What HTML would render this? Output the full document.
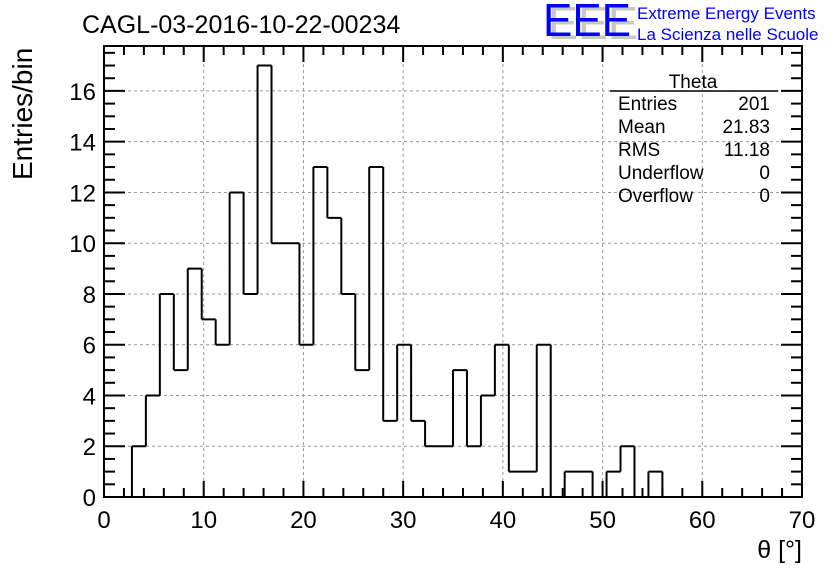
<!DOCTYPE html>
<html><head><meta charset="utf-8"><style>
body{margin:0;background:#fff;}
svg{display:block;font-family:"Liberation Sans",Arial,sans-serif;}
</style></head><body>
<svg id="chart" width="836" height="572" viewBox="0 0 836 572">
<rect width="836" height="572" fill="#fff"/>
<g id="grid"></g>
<g id="ticks"></g>
<path id="hist" fill="none" stroke="#000" stroke-width="2"/>
<rect x="104" y="46" width="698" height="451" fill="none" stroke="#000" stroke-width="2"/>
<g id="labels" font-size="24"></g>
<text x="82" y="33" font-size="25">CAGL-03-2016-10-22-00234</text>
<text x="802" y="558" font-size="25" text-anchor="end">θ [°]</text>
<text transform="translate(32,180) rotate(-90)" font-size="28">Entries/bin</text>
<g>
<text x="548" y="39" font-size="46" fill="#c8c8c8" textLength="90" lengthAdjust="spacingAndGlyphs">EEE</text>
<text x="543" y="36" font-size="46" fill="#0000ff" textLength="88" lengthAdjust="spacingAndGlyphs">EEE</text>
<text x="637" y="19" font-size="17" fill="#0000ff">Extreme Energy Events</text>
<text x="637" y="40" font-size="17" fill="#0000ff">La Scienza nelle Scuole</text>
</g>
<g font-size="19">
<text x="693" y="88" text-anchor="middle">Theta</text>
<line x1="610" y1="91" x2="778" y2="91" stroke="#000" stroke-width="1.5"/>
<text x="618" y="110">Entries</text><text x="770" y="110" text-anchor="end">201</text>
<text x="618" y="133">Mean</text><text x="770" y="133" text-anchor="end">21.83</text>
<text x="618" y="156">RMS</text><text x="770" y="156" text-anchor="end">11.18</text>
<text x="618" y="179">Underflow</text><text x="770" y="179" text-anchor="end">0</text>
<text x="618" y="202">Overflow</text><text x="770" y="202" text-anchor="end">0</text>
</g>
</svg>
<script>
const binCounts = [0,0,2,4,8,5,9,7,6,12,8,17,10,10,6,13,11,8,5,13,3,6,3,2,2,5,2,4,6,1,1,6,0,1,1,0,1,2,0,1,0,0,0,0,0,0,0,0,0,0];
const binWidth = 1.4;
const xTicks = [0,10,20,30,40,50,60,70];
const yTicks = [0,2,4,6,8,10,12,14,16];
const X0=104,X1=802,Y0=497,Y1=46,XMAX=70,YMAX=17.77;
const sx=v=>X0+v/XMAX*(X1-X0);
const sy=v=>Y0-v/YMAX*(Y0-Y1);
const NS="http://www.w3.org/2000/svg";
function mk(tag,parent,attrs){const e=document.createElementNS(NS,tag);for(const k in attrs)e.setAttribute(k,attrs[k]);document.getElementById(parent).appendChild(e);return e;}
let d="",prev=0;
binCounts.forEach((c,i)=>{
  const xa=sx(i*binWidth),xb=sx((i+1)*binWidth);
  if(c>0||prev>0){ d+=`M${xa},${sy(prev)}L${xa},${sy(c)}`; }
  if(c>0){ d+=`M${xa},${sy(c)}L${xb},${sy(c)}`; }
  prev=c;
});
if(prev>0){const xe=sx(binCounts.length*binWidth);d+=`M${xe},${sy(prev)}L${xe},${sy(0)}`;}
document.getElementById('hist').setAttribute('d',d);
xTicks.forEach(v=>{
  if(v>0&&v<XMAX){const g=mk('line','grid',{x1:sx(v),x2:sx(v),y1:Y1,y2:Y0,stroke:'#999','stroke-dasharray':'3,3','stroke-width':1});
  }
  const t=mk('text','labels',{x:sx(v),y:Y0+31,'text-anchor':'middle'});t.textContent=v;
  
  
});
yTicks.forEach(v=>{
  if(v>0){const g=mk('line','grid',{x1:X0,x2:X1,y1:sy(v),y2:sy(v),stroke:'#999','stroke-dasharray':'3,3','stroke-width':1});
  }
  const t=mk('text','labels',{x:X0-8,y:sy(v)+9,'text-anchor':'end'});t.textContent=v;
  
  
});
for(let v=0;v<=XMAX+0.001;v+=2){
  const major=Math.abs(v%10)<0.01, L=major?16:9;
  const a=mk('line','ticks',{x1:sx(v),x2:sx(v),y1:Y0,y2:Y0-L,stroke:'#000','stroke-width':2});
  
  const b=mk('line','ticks',{x1:sx(v),x2:sx(v),y1:Y1,y2:Y1+L,stroke:'#000','stroke-width':2});
  
}
for(let v=0;v<=YMAX;v+=0.5){
  const major=Math.abs(v%2)<0.01, L=major?21:11;
  const a=mk('line','ticks',{x1:X0,x2:X0+L,y1:sy(v),y2:sy(v),stroke:'#000','stroke-width':2});
  
  const b=mk('line','ticks',{x1:X1,x2:X1-L,y1:sy(v),y2:sy(v),stroke:'#000','stroke-width':2});
  
}
</script>
</body></html>
